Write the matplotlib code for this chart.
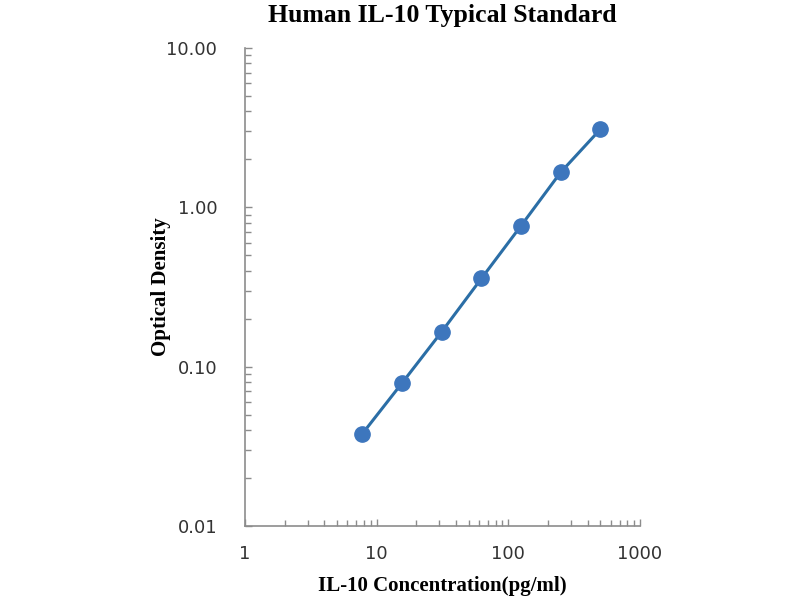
import matplotlib
matplotlib.use("Agg")
import matplotlib.pyplot as plt
from matplotlib.ticker import FixedLocator, LogLocator, NullFormatter

# standard curve values
conc = [7.8, 15.6, 31.25, 62.5, 125, 250, 500]
od = [0.038, 0.079, 0.166, 0.358, 0.767, 1.66, 3.09]
yticks = [0.01, 0.1, 1, 10]
ytick_labels = ["0.01", "0.10", "1.00", "10.00"]
xticks = [1, 10, 100, 1000]
xtick_labels = ["1", "10", "100", "1000"]

line_col = "#2b6ea6"
dot_col = "#3d76bd"
grey = "#8c8c8c"
serif = ["Liberation Serif", "DejaVu Serif"]

fig = plt.figure(figsize=(8, 6), dpi=100)
ax = fig.add_axes([245/800, 1-526/600, 395/800, 478/600])

ax.plot(conc, od, color=line_col, lw=2.2)
ax.plot(conc, od, ls="none", marker="o", ms=11, mfc=dot_col, mec=dot_col)

ax.set_xscale("log")
ax.set_yscale("log")
ax.set_xlim(1, 1000)
ax.set_ylim(0.01, 10)

ax.xaxis.set_major_locator(FixedLocator(xticks))
ax.set_xticklabels(xtick_labels)
ax.yaxis.set_major_locator(FixedLocator(yticks))
ax.set_yticklabels(ytick_labels)
ax.xaxis.set_minor_locator(LogLocator(base=10, subs=range(2, 10)))
ax.yaxis.set_minor_locator(LogLocator(base=10, subs=range(2, 10)))
ax.xaxis.set_minor_formatter(NullFormatter())
ax.yaxis.set_minor_formatter(NullFormatter())

for s in ["top", "right"]:
    ax.spines[s].set_visible(False)
for s in ["left", "bottom"]:
    ax.spines[s].set_color(grey)
    ax.spines[s].set_linewidth(1.2)

ax.tick_params(which="both", direction="in", color=grey, width=1)
ax.tick_params(which="major", length=5, labelsize=13, labelcolor="#333333")
ax.tick_params(which="minor", length=4)
ax.tick_params(axis="x", which="major", pad=14)
ax.tick_params(axis="y", which="major", pad=20)

ax.set_title("Human IL-10 Typical Standard", fontsize=18.5, fontweight="bold",
             family=serif, pad=19)
ax.set_xlabel("IL-10 Concentration(pg/ml)", fontsize=15, fontweight="bold",
              family=serif, labelpad=9)
ax.set_ylabel("Optical Density", fontsize=15, fontweight="bold",
              family=serif, labelpad=-3)

fig.savefig("out.png", dpi=100)
